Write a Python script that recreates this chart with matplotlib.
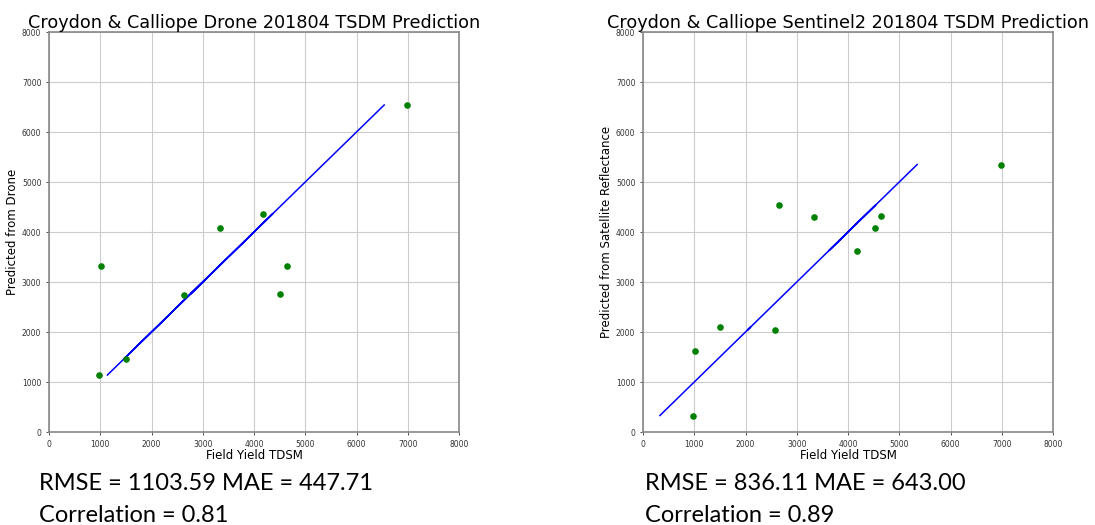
import matplotlib
matplotlib.use('Agg')
import matplotlib.pyplot as plt

# Drone model
drone_field = [980, 1010, 1510, 2640, 3330, 4170, 4510, 4640, 6990]
drone_pred = [1140, 3330, 1460, 2740, 4080, 4370, 2760, 3330, 6540]

# Sentinel2 model
sat_field = [980, 1010, 1510, 2580, 2650, 3340, 4170, 4520, 4640, 6990]
sat_pred = [330, 1630, 2100, 2040, 4540, 4300, 3630, 4080, 4330, 5350]

ticks = [0, 1000, 2000, 3000, 4000, 5000, 6000, 7000, 8000]

panels = [
    ('Croydon & Calliope Drone 201804 TSDM Prediction', 'Predicted from Drone',
     drone_field, drone_pred, 'RMSE = 1103.59 MAE = 447.71', 'Correlation = 0.81'),
    ('Croydon & Calliope Sentinel2 201804 TSDM Prediction', 'Predicted from Satellite Reflectance',
     sat_field, sat_pred, 'RMSE = 836.11 MAE = 643.00', 'Correlation = 0.89'),
]

W, H = 1095, 525
fig = plt.figure(figsize=(W / 100, H / 100), dpi=100)

lefts = [49, 643]
text_x = [39, 645]
for left, tx, (title, ylab, fx, fy, s1, s2) in zip(lefts, text_x, panels):
    ax = fig.add_axes([left / W, 1 - 432 / H, 410 / W, 400 / H])
    ax.plot(fy, fy, color='blue', lw=1.1)
    ax.scatter(fx, fy, color='green', s=14, zorder=3)
    ax.set_xlim(0, 8000)
    ax.set_ylim(0, 8000)
    ax.set_xticks(ticks)
    ax.set_yticks(ticks)
    ax.tick_params(labelsize=5.5, colors='#333333', length=2, width=0.6)
    ax.grid(True, color='#cccccc', lw=0.8)
    ax.set_axisbelow(True)
    for sp in ax.spines.values():
        sp.set_color('#888888')
        sp.set_linewidth(1.2)
    ax.set_title(title, fontsize=12.7, pad=1)
    ax.set_xlabel('Field Yield TDSM', fontsize=8.5, labelpad=0)
    ax.set_ylabel(ylab, fontsize=8.5, labelpad=2)
    fig.text(tx / W, 1 - 490 / H, s1, fontsize=17, family='Lato', va='baseline')
    fig.text(tx / W, 1 - 522 / H, s2, fontsize=17, family='Lato', va='baseline')

fig.savefig('out.png', dpi=100)
